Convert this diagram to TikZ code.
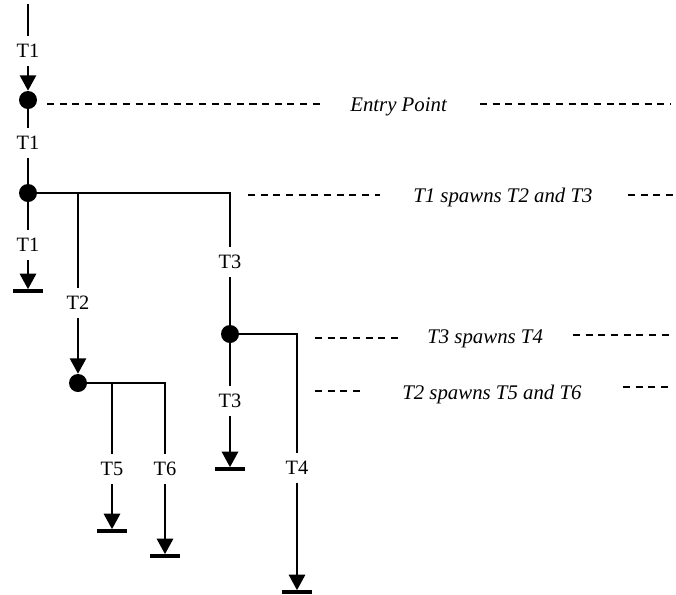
\documentclass[tikz,border=0pt]{standalone}
\usepackage{fontspec}
\setmainfont{Liberation Serif}
\usetikzlibrary{arrows.meta,positioning}

\tikzset{
  flow/.style={line width=1.7pt},
  arr/.style={flow,-{Triangle[width=11.5pt,length=11pt]}},
  fork/.style={circle,fill,inner sep=0pt,minimum size=12.8pt},
  tname/.style={inner sep=5.5pt,font=\fontsize{14.5}{17}\selectfont},
  stopbar/.style={fill,inner sep=0pt,minimum width=22pt,minimum height=2.2pt},
  remark/.style={inner sep=0pt,font=\fontsize{14.8}{17}\selectfont\itshape},
  guide/.style={line width=1.1pt,dash pattern=on 5pt off 4pt}
}

\begin{document}
\begin{tikzpicture}[x=0.025cm,y=-0.025cm]
  \useasboundingbox (0,0) rectangle (676,594);
  % T1 enters
  \coordinate (start) at (28,4);
  \node[tname] (t1a) at (28,51) {T1};
  \node[fork] (entry) at (28,100) {};
  \node[tname] (t1b) at (28,143) {T1};
  \node[fork] (sp1) at (28,193) {};
  \node[tname] (t1c) at (28,245) {T1};
  \node[stopbar] (end1) at (28,291) {};
  \draw[flow] (start) -- (t1a);
  \draw[arr] (t1a) -- (entry);
  \draw[flow] (entry) -- (t1b) -- (sp1);
  \draw[flow] (sp1) -- (t1c);
  \draw[arr] (t1c) -- (end1);

  % T1 spawns T2 and T3
  \coordinate (br2) at (78,193);
  \node[tname] (t2) at (78,303) {T2};
  \node[fork] (sp2) at (78,383) {};
  \node[tname] (t3a) at (230,262) {T3};
  \node[fork] (sp3) at (230,334) {};
  \draw[flow] (sp1) -| (t3a);
  \draw[flow] (t3a) -- (sp3);
  \draw[flow] (br2) -- (t2);
  \draw[arr] (t2) -- (sp2);

  % T3 spawns T4
  \node[tname] (t3b) at (230,401) {T3};
  \node[stopbar] (end3) at (230,469) {};
  \node[tname] (t4) at (297,468) {T4};
  \node[stopbar] (end4) at (297,592) {};
  \draw[flow] (sp3) -- (t3b);
  \draw[arr] (t3b) -- (end3);
  \draw[flow] (sp3) -| (t4);
  \draw[arr] (t4) -- (end4);

  % T2 spawns T5 and T6
  \coordinate (br5) at (112,383);
  \node[tname] (t5) at (112,469) {T5};
  \node[stopbar] (end5) at (112,531) {};
  \node[tname] (t6) at (165,469) {T6};
  \node[stopbar] (end6) at (165,556) {};
  \draw[flow] (sp2) -| (t6);
  \draw[flow] (br5) -- (t5);
  \draw[arr] (t5) -- (end5);
  \draw[arr] (t6) -- (end6);

  % annotations with dashed guides
  \node[remark,anchor=base west] (n1) at (350,111) {Entry Point};
  \node[remark,anchor=base west] (n2) at (413,202) {T1 spawns T2 and T3};
  \node[remark,anchor=base west] (n3) at (427,343) {T3 spawns T4};
  \node[remark,anchor=base west] (n4) at (402,399) {T2 spawns T5 and T6};
  \foreach \xa/\xb/\yy in {47/320/104, 480/670/104, 248/380/195, 628/673/195,
                           315/400/338, 573/673/335, 315/363/391, 623/673/387}
    \draw[guide] (\xa,\yy) -- (\xb,\yy);
\end{tikzpicture}
\end{document}
